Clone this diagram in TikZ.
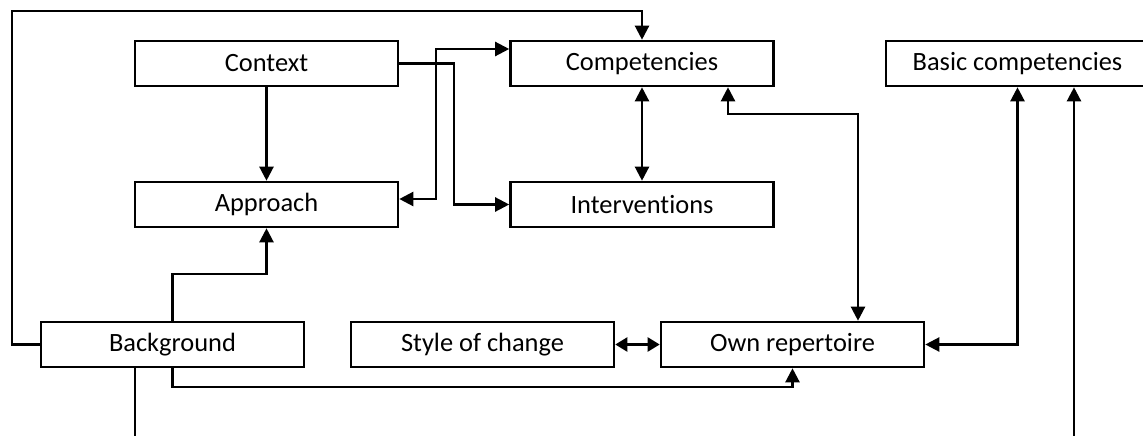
\documentclass[tikz,border=0pt]{standalone}
\usepackage{fontspec}
\setmainfont{Carlito}[Ligatures=NoCommon]
\usetikzlibrary{arrows.meta}
\begin{document}
\begin{tikzpicture}[x=1pt,y=-1pt,
  box/.style={draw, line width=2.6pt, minimum width=263pt, minimum height=45pt, inner sep=0pt,
    font=\fontsize{26.4}{30}\selectfont},
  conn/.style={line width=2.3pt, -{Triangle[length=14pt,width=14pt]}},
  dconn/.style={line width=2.3pt, {Triangle[length=14pt,width=14pt]}-{Triangle[length=14pt,width=14pt]}},
  sconn/.style={line width=2.3pt, {Triangle[length=12pt,width=14pt]}-{Triangle[length=12pt,width=14pt]}}]
\useasboundingbox (0,0) rectangle (1143,436);
\clip (0,0) rectangle (1143,436);
\node[box] (ctx) at (266.5,63.5) {Context};
\node[box] (app) at (266.5,204.5) {Approach};
\node[box] (comp) at (642,63.5) {Competencies};
\node[box] (int) at (642,204.5) {Interventions};
\node[box] (basic) at (1017.5,63.5) {Basic competencies};
\node[box] (bg) at (172.5,344.5) {Background};
\node[box] (style) at (482.5,344.5) {Style of change};
\node[box] (own) at (792.5,344.5) {Own repertoire};
\coordinate (loopL) at (12,11);
\coordinate (j1) at (454,100);
\coordinate (j2) at (436,100);
\coordinate (j3) at (800,114);
\coordinate (j4) at (200,274);
\coordinate (j5) at (500,387);
\coordinate (bgEnd) at (135,436);
\coordinate (bcEnd) at (1074,436);
% connectors
\draw[conn] (bg.west) -| (loopL) -| (comp.north);
\draw[conn] (ctx.south) -- (app.north);
\draw[conn] (ctx.east) -| (j1) |- (int.west);
\draw[dconn] ([yshift=5.5pt]app.east) -| (j2) |- ([yshift=14.5pt]comp.west);
\draw[dconn] (comp.south) -- (int.north);
\draw[dconn] ([xshift=86pt]comp.south) |- (j3) -| ([xshift=65.5pt]own.north);
\draw[conn] (bg.north) |- (j4) -| (app.south);
\draw[conn] (bg.south) |- (j5) -| (own.south);
\draw[line width=1.8pt] ([xshift=-37.5pt]bg.south) -- (bgEnd);
\draw[sconn] (style.east) -- (own.west);
\draw[dconn] (own.east) -| (basic.south);
\draw[conn] (bcEnd) -- ([xshift=56.5pt]basic.south);
\end{tikzpicture}
\end{document}
